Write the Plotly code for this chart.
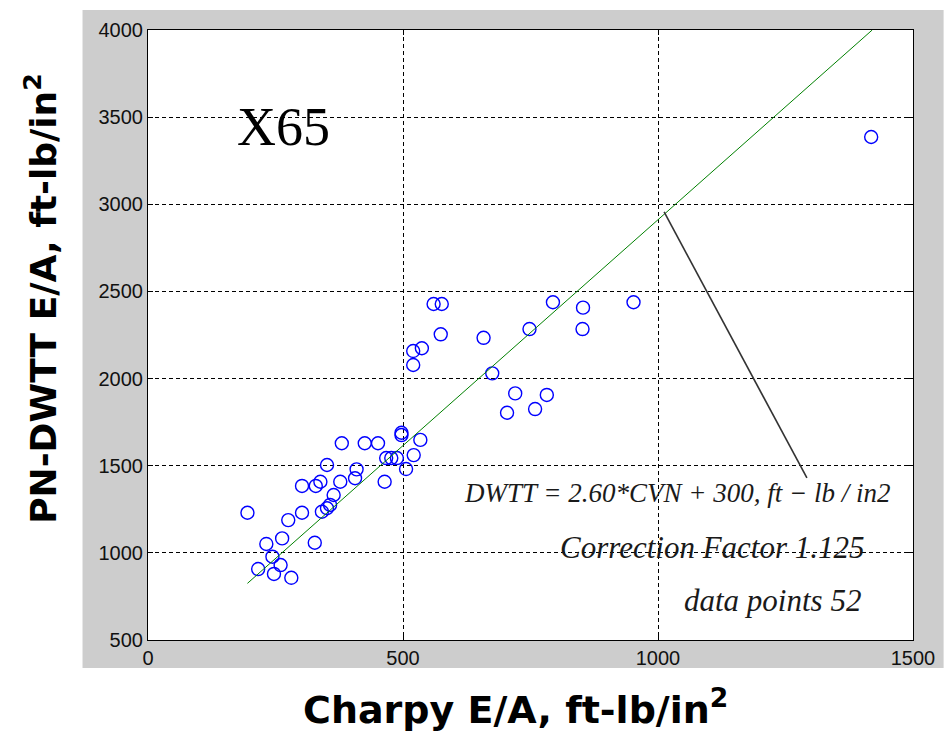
import plotly.graph_objects as go

# Charpy E/A (x) and PN-DWTT E/A (y), ft-lb/in^2
charpy = [1418, 560, 576, 574, 520, 537, 520, 794, 853, 952, 748, 852, 658, 675, 720, 782, 704, 759,
          497, 497, 534, 380, 425, 451, 467, 477, 488, 521, 506, 464, 351, 409, 406, 377,
          302, 329, 338, 364, 357, 351, 341, 302, 195, 275, 263, 232, 327, 244, 260, 216, 247, 281]
dwtt = [3386, 2428, 2428, 2254, 2158, 2174, 2078, 2438, 2407, 2438, 2284, 2284, 2234, 2030, 1915, 1906, 1804, 1825,
        1689, 1676, 1648, 1629, 1629, 1629, 1544, 1544, 1544, 1561, 1481, 1408, 1504, 1479, 1428, 1408,
        1384, 1384, 1408, 1332, 1275, 1256, 1236, 1230, 1230, 1188, 1083, 1051, 1058, 978, 930, 907, 879, 857]

fit_x = [195, 1420]
fit_y = [825, 4000]

pointer_x = [1012, 1292]
pointer_y = [2956, 1430]

x_ticks = [0, 500, 1000, 1500]
y_ticks = [500, 1000, 1500, 2000, 2500, 3000, 3500, 4000]

fig = go.Figure()
fig.add_trace(go.Scatter(x=charpy, y=dwtt, mode="markers",
                         marker=dict(symbol="circle-open", size=13, color="#0000ff",
                                     line=dict(width=1.4, color="#0000ff")),
                         showlegend=False, hoverinfo="x+y"))
fig.add_trace(go.Scatter(x=fit_x, y=fit_y, mode="lines",
                         line=dict(color="#008000", width=1), showlegend=False))
fig.add_trace(go.Scatter(x=pointer_x, y=pointer_y, mode="lines",
                         line=dict(color="#333333", width=1.6), showlegend=False))

serif = "Liberation Serif, Times New Roman, serif"
sans = "Liberation Sans, Arial, sans-serif"

fig.add_shape(type="rect", xref="paper", yref="paper",
              x0=-0.0856, x1=1.04, y0=-0.0459, y1=1.0328,
              fillcolor="#cdcdcd", line=dict(width=0), layer="below")
fig.add_shape(type="rect", xref="paper", yref="paper",
              x0=0, x1=1, y0=0, y1=1,
              fillcolor="white", line=dict(width=0), layer="below")

annots = [
    dict(x=266, y=3443, text="X65", font=dict(family=serif, size=54, color="black")),
    dict(x=1037, y=1343, text="<i>DWTT = 2.60*CVN + 300, ft − lb / in2</i>",
         font=dict(family=serif, size=27, color="#1a1a1a")),
    dict(x=1107, y=1028, text="<i>Correction Factor 1.125</i>",
         font=dict(family=serif, size=31, color="#1a1a1a")),
    dict(x=1224, y=724, text="<i>data points 52</i>",
         font=dict(family=serif, size=31, color="#1a1a1a")),
]
for a in annots:
    fig.add_annotation(xref="x", yref="y", showarrow=False, xanchor="center", yanchor="middle", **a)

fig.add_annotation(xref="paper", yref="paper", x=0.481, y=-0.110, showarrow=False,
                   xanchor="center", yanchor="middle",
                   text="<b>Charpy E/A, ft-lb/in<sup>2</sup></b>",
                   font=dict(family="DejaVu Sans, sans-serif", size=38, color="black"))
fig.add_annotation(xref="paper", yref="paper", x=-0.140, y=0.5607, showarrow=False,
                   xanchor="center", yanchor="middle", textangle=-90,
                   text="<b>PN-DWTT E/A, ft-lb/in<sup>2</sup></b>",
                   font=dict(family="DejaVu Sans, sans-serif", size=36, color="black"))

axis_common = dict(showline=True, linecolor="black", linewidth=1.2, mirror="ticks",
                   ticks="inside", ticklen=5, tickcolor="black",
                   showgrid=True, gridcolor="black", gridwidth=1, griddash="4px,3px",
                   zeroline=False, tickfont=dict(family=sans, size=20, color="#111111"))

fig.update_xaxes(range=[0, 1500], tickvals=x_ticks, ticktext=[str(v) for v in x_ticks], **axis_common)
fig.update_yaxes(range=[500, 4000], tickvals=y_ticks, ticktext=[str(v) for v in y_ticks], **axis_common)

fig.update_layout(width=947, height=740, margin=dict(l=148, r=28, t=30, b=100),
                  paper_bgcolor="white", plot_bgcolor="white", showlegend=False)

fig.write_html("out.html")
